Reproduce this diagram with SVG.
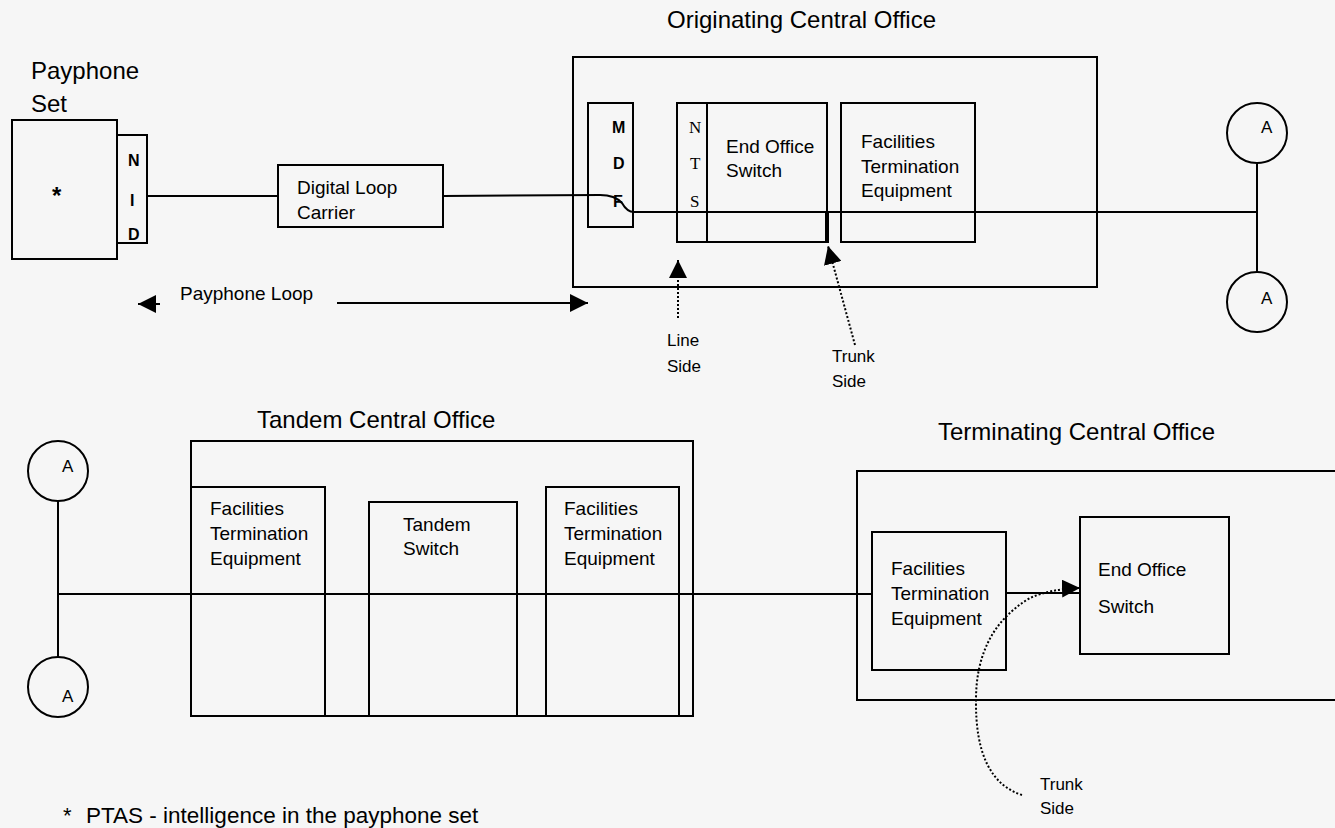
<svg xmlns="http://www.w3.org/2000/svg" width="1335" height="828" viewBox="0 0 1335 828">
<style>
.bx{fill:none;stroke:#000;stroke-width:2}
.ln{fill:none;stroke:#000;stroke-width:2}
.dt{fill:none;stroke:#000;stroke-width:2;stroke-dasharray:2 2}
text{font-family:"Liberation Sans",Arial,sans-serif;fill:#000}
.t{font-size:24px}
.s{font-size:19px}
.m{font-size:17px}
.l{font-size:16px;font-weight:bold}
.serif{font-family:"Liberation Serif","Times New Roman",serif;font-size:17px}
</style>
<defs>
<marker id="ahL" markerWidth="20" markerHeight="18" refX="18" refY="9" orient="auto" markerUnits="userSpaceOnUse"><path d="M0,0 L18,9 L0,18 Z" fill="#000"/></marker>
</defs>
<rect width="1335" height="828" fill="#f6f6f6"/>

<g id="connectors">
<path class="ln" d="M147,196 L278,196"/>
<path class="ln" d="M443,196 L600,195 Q615,195 622,203 Q627,212 634,212 L1257,212"/>
<path class="ln" d="M1257,164 L1257,272"/>
<path class="ln" d="M58,501 L58,657"/>
<path class="ln" d="M58,594 L872,594"/>
<path class="ln" d="M1006,593 L1080,593"/>
<path class="ln" d="M827,212 L827,243" style="stroke-width:4"/>
<path class="ln" d="M160,304 L138,304" marker-end="url(#ahL)"/>
<path class="ln" d="M337,303 L588,303" marker-end="url(#ahL)"/>
<path class="dt" d="M678,318 L678,260" marker-end="url(#ahL)"/>
<path class="dt" d="M855,345 L828,246" marker-end="url(#ahL)"/>
<path class="dt" d="M1022,795 Q975,780 976,700 Q976,630 1030,598 Q1050,589 1080,588" marker-end="url(#ahL)"/>
</g>

<g id="payphone-set">
<text class="t" x="31" y="79">Payphone</text>
<text class="t" x="31" y="112">Set</text>
<rect class="bx" x="12" y="120" width="105" height="139"/>
<text class="t" x="52" y="204" style="font-weight:bold">*</text>
</g>
<g id="nid">
<rect class="bx" x="117" y="135" width="30" height="108"/>
<text class="l" x="128" y="166">N</text>
<text class="l" x="130" y="206">I</text>
<text class="l" x="128" y="240">D</text>
</g>
<g id="dlc">
<rect class="bx" x="278" y="165" width="165" height="62"/>
<text class="s" x="297" y="194">Digital Loop</text>
<text class="s" x="297" y="219">Carrier</text>
</g>
<g id="payphone-loop">
<text class="s" x="180" y="300">Payphone Loop</text>
</g>

<g id="originating-co">
<text class="t" x="667" y="28">Originating Central Office</text>
<rect class="bx" x="573" y="57" width="524" height="230"/>
</g>
<g id="mdf">
<rect class="bx" x="588" y="103" width="45" height="124"/>
<text class="l" x="612" y="133">M</text>
<text class="l" x="613" y="169">D</text>
<text class="l" x="613" y="207">F</text>
</g>
<g id="nts">
<rect class="bx" x="677" y="103" width="30" height="139"/>
<text class="serif" x="689" y="133">N</text>
<text class="serif" x="690" y="169">T</text>
<text class="serif" x="690" y="207">S</text>
</g>
<g id="end-office-switch-1">
<rect class="bx" x="707" y="103" width="120" height="139"/>
<text class="s" x="726" y="153">End Office</text>
<text class="s" x="726" y="177">Switch</text>
</g>
<g id="fte-1">
<rect class="bx" x="841" y="103" width="134" height="139"/>
<text class="s" x="861" y="148">Facilities</text>
<text class="s" x="861" y="173">Termination</text>
<text class="s" x="861" y="197">Equipment</text>
</g>
<g id="line-side">
<text class="m" x="667" y="346">Line</text>
<text class="m" x="667" y="372">Side</text>
</g>
<g id="trunk-side-1">
<text class="m" x="832" y="362">Trunk</text>
<text class="m" x="832" y="387">Side</text>
</g>
<g id="conn-a-1">
<circle class="bx" cx="1257" cy="133" r="30"/>
<text class="m" x="1261" y="133">A</text>
</g>
<g id="conn-a-2">
<circle class="bx" cx="1257" cy="302" r="30"/>
<text class="m" x="1261" y="304">A</text>
</g>

<g id="conn-a-3">
<circle class="bx" cx="58" cy="471" r="30"/>
<text class="m" x="62" y="472">A</text>
</g>
<g id="conn-a-4">
<circle class="bx" cx="58" cy="687" r="30"/>
<text class="m" x="62" y="702">A</text>
</g>

<g id="tandem-co">
<text class="t" x="257" y="428">Tandem Central Office</text>
<rect class="bx" x="191" y="441" width="502" height="275"/>
</g>
<g id="fte-2">
<rect class="bx" x="191" y="487" width="134" height="229"/>
<text class="s" x="210" y="515">Facilities</text>
<text class="s" x="210" y="540">Termination</text>
<text class="s" x="210" y="565">Equipment</text>
</g>
<g id="tandem-switch">
<rect class="bx" x="369" y="502" width="148" height="214"/>
<text class="s" x="403" y="531">Tandem</text>
<text class="s" x="403" y="555">Switch</text>
</g>
<g id="fte-3">
<rect class="bx" x="546" y="487" width="133" height="229"/>
<text class="s" x="564" y="515">Facilities</text>
<text class="s" x="564" y="540">Termination</text>
<text class="s" x="564" y="565">Equipment</text>
</g>

<g id="terminating-co">
<text class="t" x="938" y="440">Terminating Central Office</text>
<path class="bx" d="M1336,471 L857,471 L857,700 L1336,700"/>
</g>
<g id="fte-4">
<rect class="bx" x="872" y="532" width="134" height="138"/>
<text class="s" x="891" y="575">Facilities</text>
<text class="s" x="891" y="600">Termination</text>
<text class="s" x="891" y="625">Equipment</text>
</g>
<g id="end-office-switch-2">
<rect class="bx" x="1080" y="517" width="149" height="137"/>
<text class="s" x="1098" y="576">End Office</text>
<text class="s" x="1098" y="613">Switch</text>
</g>
<g id="trunk-side-2">
<text class="m" x="1040" y="790">Trunk</text>
<text class="m" x="1040" y="814">Side</text>
</g>

<g id="footnote">
<text x="63" y="823" style="font-size:22px">*</text>
<text x="86" y="823" style="font-size:22.5px">PTAS - intelligence in the payphone set</text>
</g>
</svg>
